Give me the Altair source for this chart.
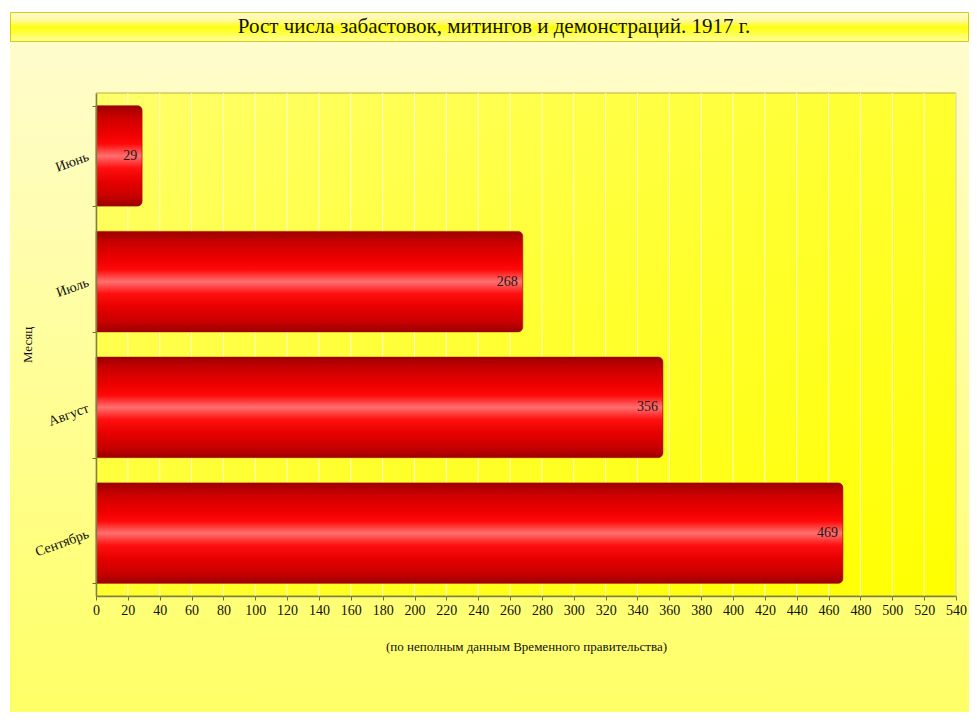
import altair as alt
import pandas as pd

# ---- data ----
months = ["Июнь", "Июль", "Август", "Сентябрь"]
counts = [29, 268, 356, 469]
x_ticks = [0, 20, 40, 60, 80, 100, 120, 140, 160, 180, 200, 220, 240, 260,
           280, 300, 320, 340, 360, 380, 400, 420, 440, 460, 480, 500, 520, 540]
title_text = "Рост числа забастовок, митингов и демонстраций. 1917 г."
x_title = "(по неполным данным Временного правительства)"
y_title = "Месяц"

df = pd.DataFrame({"month": months, "count": counts})
ticks_df = pd.DataFrame({"v": x_ticks})
one = pd.DataFrame({"a": [0]})

W, H = 860, 503
SERIF = "Liberation Serif"

x_scale = alt.Scale(domain=[0, 540], nice=False, zero=True)
y_scale = alt.Scale(domain=months, paddingInner=0.2, paddingOuter=0.1)

x_axis = alt.Axis(values=x_ticks, title=x_title, grid=False, zindex=1,
                  labelFont=SERIF, labelFontSize=14, labelColor="#111111",
                  labelPadding=3, labelFlush=False,
                  tickSize=4, tickColor="#707030", domainColor="#808040",
                  domainWidth=1.5,
                  titleFont=SERIF, titleFontSize=13, titleFontWeight="normal",
                  titleColor="#111111", titleY=44, titleBaseline="top")
y_axis = alt.Axis(title=y_title, grid=False, zindex=1, tickBand="extent",
                  labelFont=SERIF, labelFontSize=14, labelColor="#111111",
                  labelAngle=-20, labelAlign="right", labelBaseline="middle",
                  labelPadding=4,
                  tickSize=4, tickColor="#707030", domainColor="#808040",
                  domainWidth=1.5,
                  titleFont=SERIF, titleFontSize=13, titleFontWeight="normal",
                  titleColor="#111111", titleX=-62)

bg_grad = alt.Gradient(
    gradient="linear", x1=0, x2=0, y1=0, y2=1,
    stops=[alt.GradientStop(color="#fffcd2", offset=0),
           alt.GradientStop(color="#fffe9a", offset=0.5),
           alt.GradientStop(color="#ffff66", offset=1)])

plot_grad = alt.Gradient(
    gradient="linear", x1=0, x2=1, y1=0, y2=1,
    stops=[alt.GradientStop(color="#ffff6a", offset=0),
           alt.GradientStop(color="#ffff30", offset=0.5),
           alt.GradientStop(color="#ffff00", offset=1)])

title_grad = alt.Gradient(
    gradient="linear", x1=0, x2=0, y1=0, y2=1,
    stops=[alt.GradientStop(color="#fffbd8", offset=0),
           alt.GradientStop(color="#fffa90", offset=0.3),
           alt.GradientStop(color="#ffff10", offset=0.5),
           alt.GradientStop(color="#ffff40", offset=0.7),
           alt.GradientStop(color="#ffffa8", offset=1)])

bar_grad = alt.Gradient(
    gradient="linear", x1=0, x2=0, y1=0, y2=1,
    stops=[alt.GradientStop(color="#9c0000", offset=0),
           alt.GradientStop(color="#cc0000", offset=0.12),
           alt.GradientStop(color="#ee0000", offset=0.28),
           alt.GradientStop(color="#ff0808", offset=0.38),
           alt.GradientStop(color="#ff7070", offset=0.5),
           alt.GradientStop(color="#ff1010", offset=0.62),
           alt.GradientStop(color="#e80000", offset=0.75),
           alt.GradientStop(color="#c80000", offset=0.9),
           alt.GradientStop(color="#9c0000", offset=1)])

RIGHT = W + 13  # right edge of page background (plot coords)

# page background (light yellow gradient) below the title box
bg = alt.Chart(one).mark_rect(fill=bg_grad, strokeWidth=0).encode(
    x=alt.value(-86), x2=alt.value(RIGHT), y=alt.value(-81), y2=alt.value(619))

# plot area background
plot_bg = alt.Chart(one).mark_rect(fill=plot_grad, stroke="#b8b040", strokeWidth=1).encode(
    x=alt.value(0), x2=alt.value(W), y=alt.value(0), y2=alt.value(H))

# vertical gridlines
grid = alt.Chart(ticks_df).mark_rule(color="#ffffc8", strokeWidth=1).encode(
    x=alt.X("v:Q", scale=x_scale, axis=x_axis),
    y=alt.value(0), y2=alt.value(H))

bars = alt.Chart(df).mark_bar(
    fill=bar_grad, stroke="#a00000", strokeWidth=0.5, cornerRadiusEnd=5
).encode(
    x=alt.X("count:Q", scale=x_scale, axis=x_axis),
    y=alt.Y("month:N", scale=y_scale, sort=months, axis=y_axis),
)

labels = alt.Chart(df).mark_text(
    align="right", baseline="middle", dx=-5, font=SERIF, fontSize=14, color="#1a1a1a"
).encode(
    x=alt.X("count:Q", scale=x_scale, axis=x_axis),
    y=alt.Y("month:N", scale=y_scale, sort=months, axis=y_axis),
    text=alt.Text("count:Q"),
)

title_box = alt.Chart(one).mark_rect(fill=title_grad, stroke="#d8cf00", strokeWidth=1).encode(
    x=alt.value(-85.5), x2=alt.value(RIGHT - 0.5), y=alt.value(-80.5), y2=alt.value(-51.5))

title = alt.Chart(one).mark_text(
    font=SERIF, fontSize=21, color="#111111", align="center", baseline="middle"
).encode(x=alt.value(398), y=alt.value(-66), text=alt.value(title_text))

chart = alt.layer(bg, plot_bg, grid, bars, labels, title_box, title).properties(
    width=W, height=H,
    padding={"left": 2, "top": 4, "right": 0, "bottom": 0},
    background="#ffffff",
).configure_view(strokeWidth=0)

chart.save("out.html", embed_options={"renderer": "svg", "actions": False})
